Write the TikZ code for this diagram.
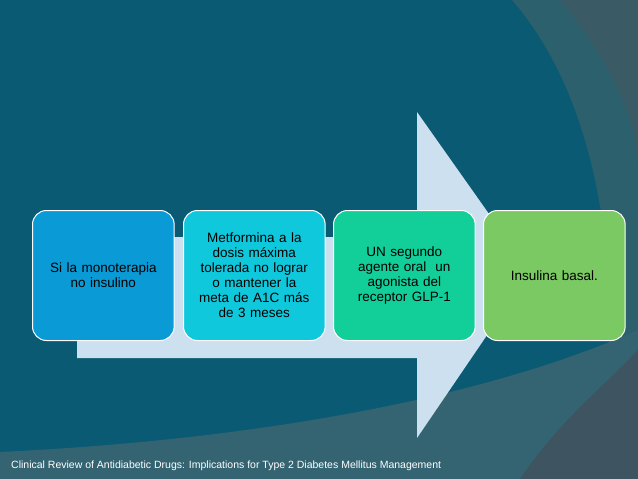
\documentclass[tikz,border=0pt]{standalone}
\usepackage{fontspec}
\setmainfont{Liberation Sans}
\begin{document}
\begin{tikzpicture}[x=1pt,y=-1pt,
  stepbox/.style={draw=white,line width=1pt,rounded corners=14pt,minimum width=141pt,minimum height=130pt,text width=135pt,align=center,font=\fontsize{13.5}{15}\selectfont,anchor=north west}]
\useasboundingbox (0,0) rectangle (638,479);
\fill[color={rgb,255:red,9;green,90;blue,114}] (0,0) rectangle (638,479);
% right arc region
\fill[color={rgb,255:red,44;green,96;blue,108}] (512,0) .. controls (590,90) and (630,250) .. (600,479) -- (638,479) -- (638,0) -- cycle;
\fill[color={rgb,255:red,58;green,90;blue,102}] (560,0) .. controls (610,60) and (638,120) .. (638,170) -- (638,0) -- cycle;
% bottom band
\fill[color={rgb,255:red,52;green,100;blue,114}] (0,452) .. controls (250,440) and (480,400) .. (638,330) -- (638,479) -- (0,479) -- cycle;
\fill[color={rgb,255:red,62;green,84;blue,96}] (520,479) .. controls (560,420) and (600,390) .. (638,350) -- (638,479) -- cycle;
% arrow
\fill[color={rgb,255:red,204;green,224;blue,240}] (77,237) -- (417,237) -- (417,112) -- (530,272) -- (417,438) -- (417,358) -- (77,358) -- cycle;
\node[stepbox,fill={rgb,255:red,10;green,154;blue,214}] (b1) at (32,210) {Si la monoterapia\\no insulino};
\node[stepbox,fill={rgb,255:red,16;green,200;blue,220}] (b2) at (183,210) {Metformina a la\\dosis máxima\\tolerada no lograr\\o mantener la\\meta de A1C más\\de 3 meses};
\node[stepbox,fill={rgb,255:red,18;green,207;blue,154}] (b3) at (333,210) {UN segundo\\agente oral\ \ un\\agonista del\\receptor GLP-1};
\node[stepbox,fill={rgb,255:red,122;green,201;blue,99}] (b4) at (483,210) {Insulina basal.};
\node[anchor=west,text=white,font=\fontsize{10.5}{12}\selectfont,inner sep=0pt] (ft) at (11,466) {Clinical Review of Antidiabetic Drugs: Implications for Type 2 Diabetes Mellitus Management};
\end{tikzpicture}
\end{document}
